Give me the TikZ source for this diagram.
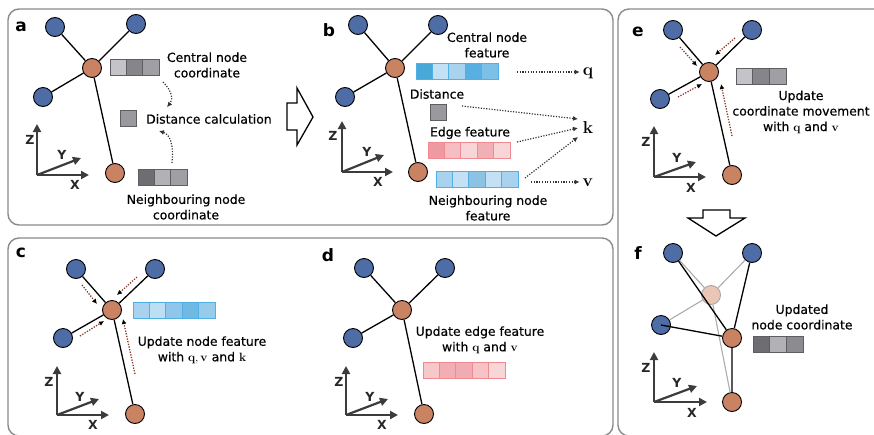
\documentclass[tikz,border=0pt]{standalone}
\usepackage[no-math]{fontspec}
\setmainfont{DejaVu Sans}
\newfontfamily\labelfont{DejaVu Sans}[FakeBold=0.5]
\usetikzlibrary{arrows.meta}

\definecolor{nodeblue}{HTML}{4E6CA6}
\definecolor{nodeorange}{HTML}{C98262}
\definecolor{nodepale}{HTML}{EAC6B6}
\definecolor{panelgray}{HTML}{8A8A8A}
\definecolor{axisgray}{HTML}{3C3C3C}
\definecolor{dotbrown}{HTML}{8B3C2C}
\definecolor{blueedge}{HTML}{4FB0E6}
\definecolor{rededge}{HTML}{F08A92}
\definecolor{grayedge}{HTML}{5E5E62}
% cell colours of the feature vectors
\definecolor{bA}{HTML}{4AA8D8}
\definecolor{bB}{HTML}{C4E0F4}
\definecolor{bC}{HTML}{A8D2EE}
\definecolor{bD}{HTML}{58B0E2}
\definecolor{bE}{HTML}{7CC0E8}
\definecolor{bF}{HTML}{8CC2E4}
\definecolor{bG}{HTML}{BCDFF4}
\definecolor{bH}{HTML}{90C6EA}
\definecolor{bI}{HTML}{70BAE2}
\definecolor{bJ}{HTML}{96CBEA}
\definecolor{rA}{HTML}{EE9AA0}
\definecolor{rB}{HTML}{F4BEC2}
\definecolor{rC}{HTML}{F8D6D8}
\definecolor{rD}{HTML}{F0B0B4}
\definecolor{rE}{HTML}{F6C8CA}
\definecolor{rF}{HTML}{F2AEB2}
\definecolor{rG}{HTML}{F0ACB0}
\definecolor{rH}{HTML}{F6C4C6}
\definecolor{gA}{HTML}{C4C4C8}
\definecolor{gB}{HTML}{86868A}
\definecolor{gC}{HTML}{A0A0A4}
\definecolor{gD}{HTML}{6E6E72}
\definecolor{gE}{HTML}{B2B2B6}
\definecolor{gF}{HTML}{8C8C90}
\definecolor{gS}{HTML}{9A9A9E}

% one feature vector: left x, top y, cell width, outline colour, cell colours
\newcommand\featbar[5]{%
  \foreach \cc [count=\ii from 0] in {#5} {%
    \filldraw[fill=\cc, draw=#4, line width=0.8pt]
      ({#1+\ii*#3},#2) rectangle ++(#3,16);
  }%
}

\tikzset{
  panel/.style={draw=panelgray, line width=1.4pt, rounded corners=11pt},
  atom/.style={circle, draw=black, line width=0.9pt, minimum size=19pt, inner sep=0pt},
  nb/.style={atom, fill=nodeblue},
  ctr/.style={atom, fill=nodeorange},
  oldctr/.style={atom, fill=nodepale, draw=gray!70},
  bond/.style={line width=1.3pt, black},
  oldbond/.style={line width=1.1pt, gray!65},
  axis/.style={line width=2.2pt, axisgray, -{Triangle[length=8pt,width=8pt]}},
  axlab/.style={font=\fontsize{12.5}{12.5}\selectfont\bfseries, text=black!85, inner sep=0pt},
  plab/.style={font=\fontsize{17}{17}\selectfont\bfseries, inner sep=0pt},
  txt/.style={font=\labelfont\fontsize{12.4}{15.5}\selectfont, align=center, inner sep=0pt, text=black},
  mathlab/.style={font=\fontsize{16}{16}\selectfont, inner sep=0pt},
  flow/.style={line width=1.2pt, black!80, dash pattern=on 1.2pt off 1.5pt,
    -{Latex[length=5pt,width=5pt]}},
  pull/.style={line width=1.3pt, dotbrown, dash pattern=on 1.3pt off 1.4pt,
    -{Latex[length=5pt,width=5pt,color=black]}},
  hollow/.style={draw=black, fill=white, line width=1.3pt, line join=miter},
  square/.style={draw=grayedge, fill=gS, line width=0.8pt, minimum size=16pt, inner sep=0pt}
}

\begin{document}
\begin{tikzpicture}[x=1pt,y=-1pt]
\useasboundingbox (0,0) rectangle (874,434);

% ---------- panel frames ----------
\draw[panel] (8,9) rectangle (613,225);
\draw[panel] (8,238) rectangle (613,436);
\draw[panel] (618,9) rectangle (890,436);

% ---------- panel a ----------
\node[plab] (la) at (21,27) {a};
\node[nb] (a1) at (55,27) {};
\node[nb] (a2) at (136,24) {};
\node[nb] (a3) at (43,97) {};
\node[ctr] (a4) at (115,173) {};
\node[ctr] (a0) at (92,68) {};
\draw[bond] (a0) -- (a1) (a0) -- (a2) (a0) -- (a3) (a0) -- (a4);
\featbar{110}{59}{16.3}{grayedge}{gA,gB,gC}
\node[txt] (acn) at (207,65) {Central node\\coordinate};
\node[square] (asq) at (128.5,118.5) {};
\node[txt, anchor=west] (adist) at (146,119) {Distance calculation};
\featbar{138}{169}{16.3}{grayedge}{gD,gE,gC}
\node[txt] (ann) at (186,207) {Neighbouring node\\coordinate};
\coordinate (aup1) at (163,82);
\coordinate (aup2) at (167,107);
\coordinate (adn1) at (172,163);
\coordinate (adn2) at (159,131);
\draw[flow] (aup1) .. controls (173,92) and (173,100) .. (aup2);
\draw[flow] (adn1) .. controls (174,142) and (169,134) .. (adn2);
% axes
\coordinate (ao) at (37,175);
\draw[axis] (ao) -- (37,124);
\draw[axis] (ao) -- (89,175);
\draw[axis] (ao) -- (81,158);
\node[axlab] (aZ) at (30,140) {Z};
\node[axlab] (aY) at (62,155) {Y};
\node[axlab] (aX) at (75,185) {X};

% big arrow a -> b
\draw[hollow] (287,103) -- (297,103) -- (297,88) -- (313,117) -- (297,145) -- (297,130) -- (287,130) -- cycle;

% ---------- panel b ----------
\node[plab] (lb) at (329,30) {b};
\node[nb] (b1) at (358,25) {};
\node[nb] (b2) at (438,25) {};
\node[nb] (b3) at (345,97) {};
\node[ctr] (b4) at (418,172) {};
\node[ctr] (b0) at (395,68) {};
\draw[bond] (b0) -- (b1) (b0) -- (b2) (b0) -- (b3) (b0) -- (b4);
\node[txt] (bcn) at (487,45) {Central node\\feature};
\featbar{416}{63}{16.4}{blueedge}{bA,bB,bC,bD,bE}
\node[txt] (bdist) at (437,94) {Distance};
\node[square] (bsq) at (438,112) {};
\node[txt] (bef) at (470,133) {Edge feature};
\featbar{428}{142}{16.4}{rededge}{rA,rB,rC,rD,rC}
\featbar{436}{171}{16.4}{blueedge}{bC,bB,bF,bB,bC}
\node[txt] (bnn) at (488,208) {Neighbouring node\\feature};
\node[mathlab] (q) at (588,73) {$\mathbf{q}$};
\node[mathlab] (k) at (588,127) {$\mathbf{k}$};
\node[mathlab] (v) at (588,183) {$\mathbf{v}$};
\coordinate (bq0) at (517,72);
\coordinate (bd0) at (462,106);
\coordinate (be0) at (517,142);
\coordinate (bn0) at (525,178);
\coordinate (bv0) at (531,182);
\draw[flow] (bq0) -- ([xshift=-3pt]q.west |- bq0);
\draw[flow] (bd0) -- (578,119);
\draw[flow] (be0) -- (578,128);
\draw[flow] (bn0) -- (578,137);
\draw[flow] (bv0) -- ([xshift=-3pt]v.west |- bv0);
\coordinate (bo) at (342,172);
\draw[axis] (bo) -- (342,121);
\draw[axis] (bo) -- (393,172);
\draw[axis] (bo) -- (384,155);
\node[axlab] (bZ) at (333,136) {Z};
\node[axlab] (bY) at (367,152) {Y};
\node[axlab] (bX) at (378,182) {X};

% ---------- panel c ----------
\node[plab] (lc) at (21,253) {c};
\node[nb] (c1) at (76,269) {};
\node[nb] (c2) at (155,269) {};
\node[nb] (c3) at (63,338) {};
\node[ctr] (c4) at (135,414) {};
\node[ctr] (c0) at (112,310) {};
\draw[bond] (c0) -- (c1) (c0) -- (c2) (c0) -- (c3) (c0) -- (c4);
\featbar{133}{302}{16.4}{blueedge}{bC,bG,bH,bI,bJ}
\draw[pull] (82,285) -- (97,304);
\draw[pull] (137,277) -- (117,295);
\draw[pull] (80,336) -- (104,321);
\draw[pull] (135,374) -- (123,319);
\node[txt] (ctext) at (202,350) {Update node feature\\with $\mathbf{q},\mathbf{v}$ and $\mathbf{k}$};
\coordinate (co) at (57,415);
\draw[axis] (co) -- (57,366);
\draw[axis] (co) -- (109,415);
\draw[axis] (co) -- (99,399);
\node[axlab] (cZ) at (49,382) {Z};
\node[axlab] (cY) at (80,397) {Y};
\node[axlab] (cX) at (93,425) {X};

% ---------- panel d ----------
\node[plab] (ld) at (328,255) {d};
\node[nb] (d1) at (364,268) {};
\node[nb] (d2) at (445,268) {};
\node[nb] (d3) at (353,338) {};
\node[ctr] (d4) at (424,414) {};
\node[ctr] (d0) at (402,310) {};
\draw[bond] (d0) -- (d1) (d0) -- (d2) (d0) -- (d3) (d0) -- (d4);
\node[txt] (dtext) at (480,340) {Update edge feature\\with $\mathbf{q}$ and $\mathbf{v}$};
\featbar{423}{362}{16.4}{rededge}{rE,rF,rG,rH,rC}
\coordinate (do) at (346,415);
\draw[axis] (do) -- (346,366);
\draw[axis] (do) -- (398,415);
\draw[axis] (do) -- (388,399);
\node[axlab] (dZ) at (339,382) {Z};
\node[axlab] (dY) at (370,397) {Y};
\node[axlab] (dX) at (382,425) {X};

% ---------- panel e ----------
\node[plab] (le) at (638,32) {e};
\node[nb] (e1) at (673,30) {};
\node[nb] (e2) at (752,30) {};
\node[nb] (e3) at (660,99) {};
\node[ctr] (e4) at (732,175) {};
\node[ctr] (e0) at (709,72) {};
\draw[bond] (e0) -- (e1) (e0) -- (e2) (e0) -- (e3) (e0) -- (e4);
\featbar{736}{68}{16.7}{grayedge}{gA,gB,gC}
\draw[pull] (680,47) -- (697,66);
\draw[pull] (735,38) -- (715,55);
\draw[pull] (678,97) -- (702,84);
\draw[pull] (732,136) -- (721,84);
\node[txt] (etext) at (801,112) {Update\\coordinate movement\\with $\mathbf{q}$ and $\mathbf{v}$};
\coordinate (eo) at (654,177);
\draw[axis] (eo) -- (654,126);
\draw[axis] (eo) -- (706,177);
\draw[axis] (eo) -- (696,162);
\node[axlab] (eZ) at (646,142) {Z};
\node[axlab] (eY) at (677,158) {Y};
\node[axlab] (eX) at (691,188) {X};

% big arrow e -> f
\draw[hollow] (703,210) -- (703,218) -- (688,218) -- (716,236) -- (745,218) -- (730,218) -- (730,210) -- cycle;

% ---------- panel f ----------
\node[plab] (lf) at (638,253) {f};
\node[oldctr] (f9) at (711,295) {};
\node[nb] (f1) at (673,253) {};
\node[nb] (f2) at (752,253) {};
\node[nb] (f3) at (661,325) {};
\node[ctr] (f4) at (732,402) {};
\node[ctr] (f0) at (732,338) {};
\draw[oldbond] (f9) -- (f1) (f9) -- (f2) (f9) -- (f3) (f9) -- (f4);
\draw[bond] (f0) -- (f1) (f0) -- (f2) (f0) -- (f3.center) (f0) -- (f4);
\node[txt] (ftext) at (802,317) {Updated\\node coordinate};
\featbar{753}{336}{16.7}{grayedge}{gD,gE,gF}
\coordinate (fo) at (654,402);
\draw[axis] (fo) -- (654,352);
\draw[axis] (fo) -- (707,402);
\draw[axis] (fo) -- (697,386);
\node[axlab] (fZ) at (646,368) {Z};
\node[axlab] (fY) at (677,383) {Y};
\node[axlab] (fX) at (692,413) {X};
\end{tikzpicture}
\end{document}
